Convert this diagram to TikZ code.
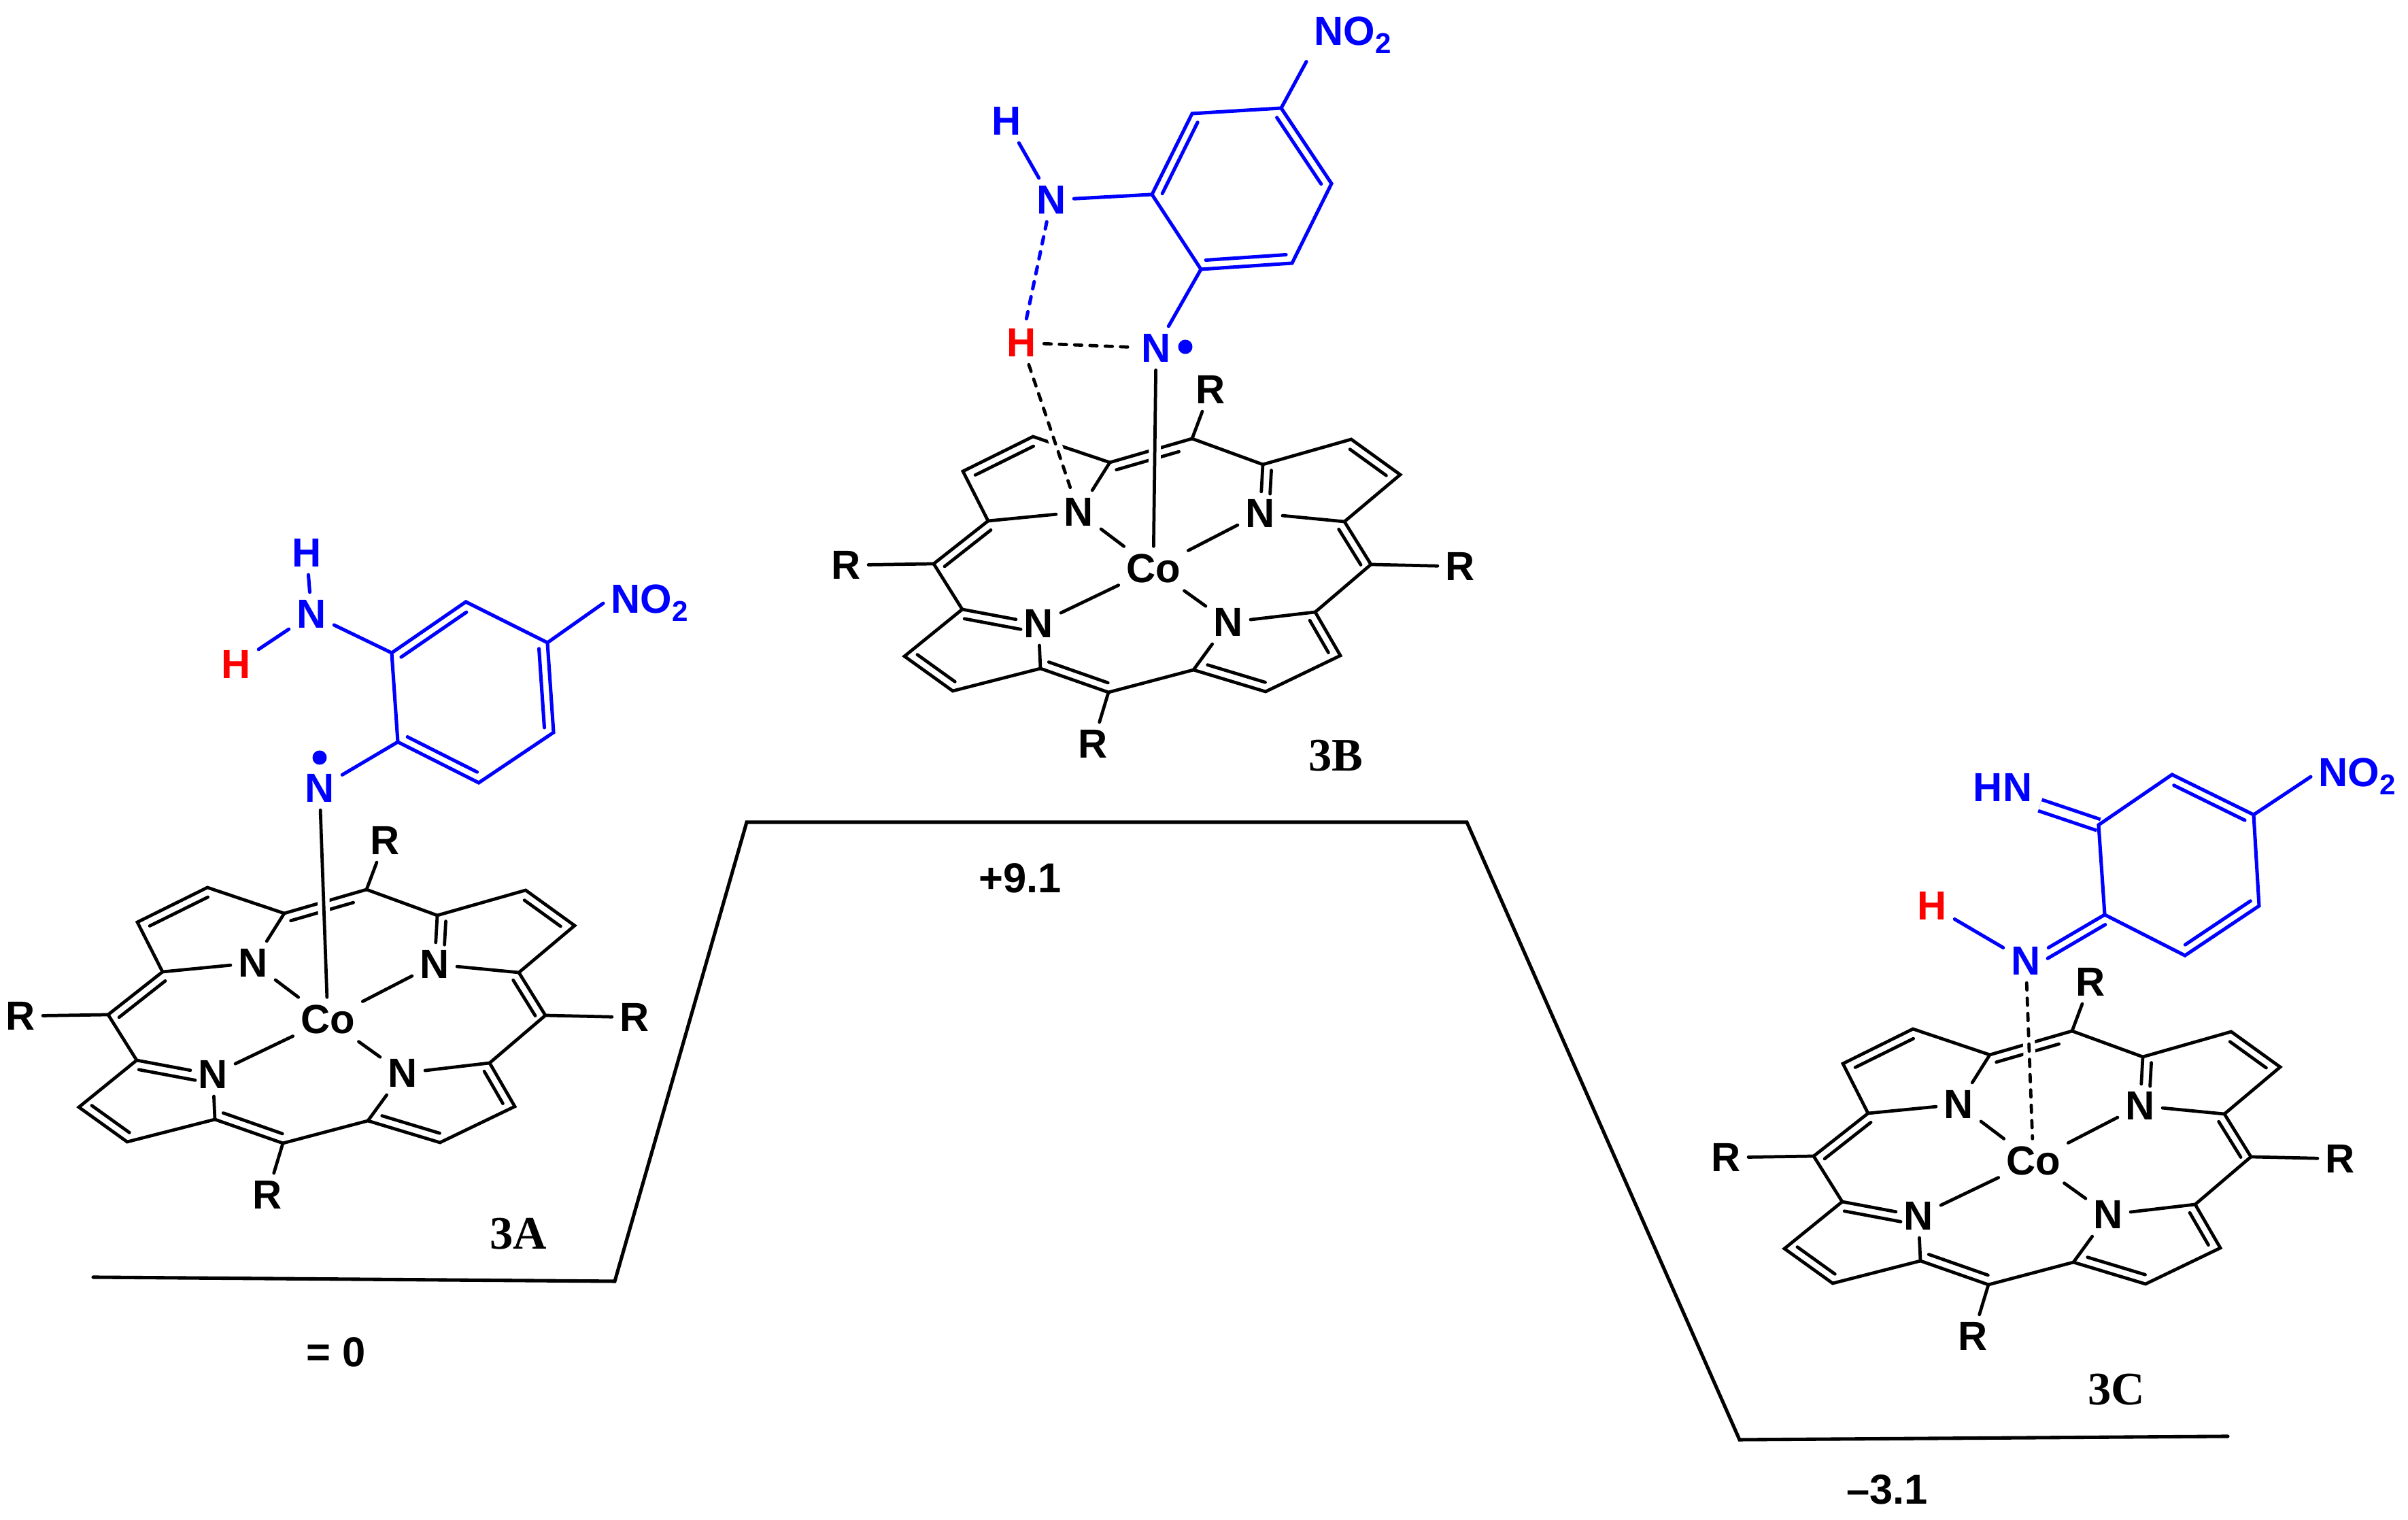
\documentclass[tikz,border=0pt]{standalone}
\usepackage{fontspec}
\setmainfont{Liberation Sans}
\newfontfamily\namefont{Liberation Serif}
\usetikzlibrary{calc}
\tikzset{
	atom/.style={font=\fontsize{17}{17}\selectfont\bfseries, inner sep=2.6pt},
	ligand/.style={blue, line width=1.45pt},
	redatom/.style={atom, red},
	raddot/.style={circle, fill=blue, draw=none, inner sep=0pt, minimum size=0.21cm},
	hbond/.style={dash pattern=on 0.105cm off 0.12cm},
	halo/.style={preaction={draw=white, solid, line width=5pt, line cap=butt}},
	level/.style={line width=1.45pt},
	energy/.style={font=\fontsize{17.5}{17.5}\selectfont\bfseries, inner sep=0pt},
	compound/.style={font=\namefont\fontsize{19.5}{19.5}\selectfont\bfseries, inner sep=0pt}
}
\newcommand{\nitro}{NO\raisebox{-0.12cm}{\fontsize{12}{12}\selectfont 2}}
\newcommand{\dbond}[4]{\draw ($(#1)!#3!(#2)!0.13cm!90:(#2)$) -- ($(#1)!#4!(#2)!0.13cm!90:(#2)$);}
\newcommand{\porphyrin}[3]{
	\begin{scope}[shift={(#2,#3)}]
		\coordinate (#1a) at (-0.64,1.56);
		\coordinate (#1b) at (-1.77,1.94);
		\coordinate (#1c) at (-2.80,1.43);
		\coordinate (#1d) at (-2.43,0.70);
		\coordinate (#1e) at (-3.23,0.07);
		\coordinate (#1f) at (-2.81,-0.60);
		\coordinate (#1g) at (-3.66,-1.29);
		\coordinate (#1h) at (-2.95,-1.80);
		\coordinate (#1i) at (-1.66,-1.47);
		\coordinate (#1j) at (-0.66,-1.82);
		\coordinate (#1k) at (0.59,-1.49);
		\coordinate (#1l) at (1.65,-1.81);
		\coordinate (#1m) at (2.75,-1.28);
		\coordinate (#1n) at (2.38,-0.64);
		\coordinate (#1o) at (3.20,0.06);
		\coordinate (#1p) at (2.81,0.69);
		\coordinate (#1q) at (3.63,1.38);
		\coordinate (#1r) at (2.91,1.90);
		\coordinate (#1s) at (1.61,1.53);
		\coordinate (#1t) at (0.57,1.91);
		\node[atom] (#1co) at (0,0) {Co};
		\node[atom] (#1N1) at (-1.10,0.83) {N};
		\node[atom] (#1N2) at (1.57,0.81) {N};
		\node[atom] (#1N3) at (-1.69,-0.81) {N};
		\node[atom] (#1N4) at (1.10,-0.79) {N};
		\node[atom] (#1Rt) at (0.84,2.63) {R};
		\node[atom] (#1Rl) at (-4.52,0.05) {R};
		\node[atom] (#1Rr) at (4.51,0.03) {R};
		\node[atom] (#1Rb) at (-0.89,-2.58) {R};
		\draw (#1a) -- (#1t) -- (#1s) -- (#1r) -- (#1q) -- (#1p) -- (#1o) -- (#1n) -- (#1m) -- (#1l) -- (#1k) -- (#1j) -- (#1i) -- (#1h) -- (#1g) -- (#1f) -- (#1e) -- (#1d) -- (#1c) -- (#1b) -- cycle;
		\draw (#1a) -- (#1N1);
		\draw (#1d) -- (#1N1);
		\draw (#1s) -- (#1N2);
		\draw (#1p) -- (#1N2);
		\draw (#1f) -- (#1N3);
		\draw (#1i) -- (#1N3);
		\draw (#1n) -- (#1N4);
		\draw (#1k) -- (#1N4);
		\draw (#1N1) -- (#1co);
		\draw (#1N2) -- (#1co);
		\draw (#1N3) -- (#1co);
		\draw (#1N4) -- (#1co);
		\draw (#1t) -- (#1Rt);
		\draw (#1e) -- (#1Rl);
		\draw (#1o) -- (#1Rr);
		\draw (#1j) -- (#1Rb);
		\dbond{#1b}{#1c}{0.05}{0.88}
		\dbond{#1t}{#1a}{0.19}{0.95}
		\dbond{#1s}{#1N2}{0.11}{0.59}
		\dbond{#1q}{#1r}{0.18}{0.92}
		\dbond{#1o}{#1p}{0.10}{0.93}
		\dbond{#1d}{#1e}{0.05}{0.90}
		\dbond{#1N3}{#1f}{0.21}{0.95}
		\dbond{#1g}{#1h}{0.16}{0.94}
		\dbond{#1i}{#1j}{0.08}{0.95}
		\dbond{#1k}{#1l}{0.16}{0.96}
		\dbond{#1m}{#1n}{0.17}{0.91}
	\end{scope}
}

\begin{document}
\begin{tikzpicture}[line width=1.35pt, line cap=round]
	\useasboundingbox (0,0) rectangle (35.41,22.35);

	\porphyrin{A}{4.82}{7.36}
	\porphyrin{B}{16.96}{13.99}
	\porphyrin{C}{29.90}{5.28}

	\coordinate (l1) at (1.37,3.57);
	\coordinate (l2) at (9.04,3.51);
	\coordinate (l3) at (10.98,10.26);
	\coordinate (l4) at (21.57,10.26);
	\coordinate (l5) at (25.58,1.18);
	\coordinate (l6) at (32.76,1.23);
	\draw[level] (l1) -- (l2) -- (l3) -- (l4) -- (l5) -- (l6);

	\node[compound] (nameA) at (7.62,4.21) {3A};
	\node[compound] (nameB) at (19.64,11.24) {3B};
	\node[compound] (nameC) at (31.12,1.92) {3C};
	\node[energy] (levelA) at (4.94,2.47) {= 0};
	\node[energy] (levelB) at (15.00,9.44) {+9.1};
	\node[energy] (levelC) at (27.75,0.45) {--3.1};

	\begin{scope}[ligand]
		\coordinate (Ac1) at (5.76,12.75);
		\coordinate (Ac2) at (6.85,13.50);
		\coordinate (Ac3) at (8.05,12.90);
		\coordinate (Ac4) at (8.14,11.58);
		\coordinate (Ac5) at (7.04,10.84);
		\coordinate (Ac6) at (5.85,11.44);
		\node[atom] (AnH) at (4.58,13.32) {N};
		\node[atom] (AhB) at (4.51,14.22) {H};
		\node[redatom] (AhR) at (3.47,12.58) {H};
		\node[atom] (Anr) at (4.70,10.76) {N};
		\node[raddot] (Adot) at (4.70,11.21) {};
		\node[atom, anchor=base west] (Ano) at (8.87,13.33) {\nitro};
		\draw (Ac1) -- (Ac2) -- (Ac3) -- (Ac4) -- (Ac5) -- (Ac6) -- cycle;
		\draw (AnH) -- (Ac1);
		\draw (AnH) -- (AhB);
		\draw (AnH) -- (AhR);
		\draw (Anr) -- (Ac6);
		\draw (Ac3) -- (Ano.west);
		\dbond{Ac2}{Ac1}{0.06}{0.94}
		\dbond{Ac4}{Ac3}{0.06}{0.94}
		\dbond{Ac6}{Ac5}{0.07}{0.93}
	\end{scope}
	\draw[halo] (Anr) -- (Aco);

	\begin{scope}[ligand]
		\coordinate (Bc1) at (16.94,19.49);
		\coordinate (Bc2) at (17.53,20.68);
		\coordinate (Bc3) at (18.84,20.76);
		\coordinate (Bc4) at (19.58,19.65);
		\coordinate (Bc5) at (19.00,18.48);
		\coordinate (Bc6) at (17.66,18.39);
		\node[atom] (BnH) at (15.46,19.41) {N};
		\node[atom] (BhB) at (14.80,20.57) {H};
		\node[redatom] (BhR) at (15.02,17.31) {H};
		\node[atom] (Bnr) at (17.00,17.23) {N};
		\node[raddot] (Bdot) at (17.43,17.25) {};
		\node[atom, anchor=base west] (Bno) at (19.21,21.68) {\nitro};
		\draw (Bc1) -- (Bc2) -- (Bc3) -- (Bc4) -- (Bc5) -- (Bc6) -- cycle;
		\draw (BnH) -- (Bc1);
		\draw (BnH) -- (BhB);
		\draw (Bnr) -- (Bc6);
		\draw (Bc3) -- (Bno.south west);
		\draw[hbond] (BnH) -- (BhR);
		\dbond{Bc2}{Bc1}{0.06}{0.94}
		\dbond{Bc4}{Bc3}{0.06}{0.94}
		\dbond{Bc6}{Bc5}{0.06}{0.94}
	\end{scope}
	\draw[halo] (Bnr) -- (Bco);
	\draw[hbond] (BhR) -- (Bnr);
	\draw[hbond, halo] (BhR) -- (BN1);

	\begin{scope}[ligand]
		\coordinate (Cc1) at (30.86,10.22);
		\coordinate (Cc2) at (31.94,10.96);
		\coordinate (Cc3) at (33.14,10.37);
		\coordinate (Cc4) at (33.22,9.03);
		\coordinate (Cc5) at (32.13,8.30);
		\coordinate (Cc6) at (30.95,8.90);
		\node[atom, anchor=base] (Chn) at (29.45,10.56) {HN};
		\node[atom] (Cnr) at (29.79,8.22) {N};
		\node[redatom] (ChR) at (28.41,9.03) {H};
		\node[atom, anchor=base west] (Cno) at (33.98,10.78) {\nitro};
		\draw[double, double distance=0.12cm, line cap=butt] (Chn.-25) -- (Cc1);
		\draw (Cc1) -- (Cc2) -- (Cc3) -- (Cc4) -- (Cc5) -- (Cc6) -- cycle;
		\draw (Cnr) -- (Cc6);
		\draw (Cnr) -- (ChR);
		\draw (Cc3) -- (Cno.west);
		\dbond{Cc3}{Cc2}{0.06}{0.93}
		\dbond{Cc5}{Cc4}{0.07}{0.95}
		\dbond{Cc6}{Cnr}{0.05}{0.78}
	\end{scope}
	\draw[hbond, halo] (Cnr) -- (Cco);
\end{tikzpicture}
\end{document}
